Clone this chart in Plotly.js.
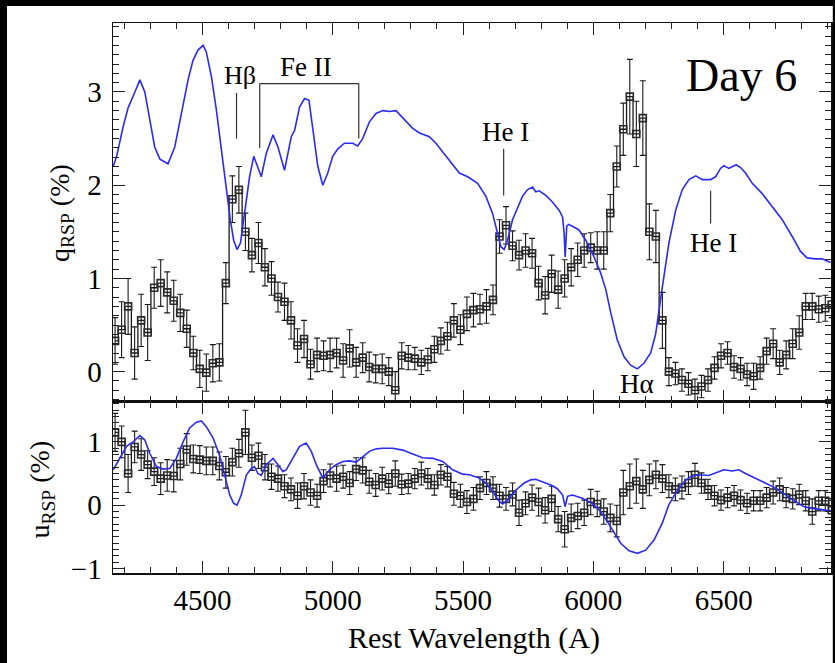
<!DOCTYPE html>
<html>
<head>
<meta charset="utf-8">
<script src="https://cdn.plot.ly/plotly-3.0.1.min.js"></script>
<style>html,body{margin:0;padding:0;background:#fff;}#chart{width:835px;height:663px;}</style>
</head>
<body>
<div id="chart"></div>
<script>
// Bin centres (rest wavelength, Angstrom) for the binned polarization data
const binWave = [
4165,4190,4215,4240,4265,4290,4315,4340,4365,4390,
4415,4440,4465,4490,4515,4540,4565,4590,4615,4640,
4665,4690,4715,4740,4765,4790,4815,4840,4865,4890,
4915,4940,4965,4990,5015,5040,5065,5090,5115,5140,
5165,5190,5215,5240,5265,5290,5315,5340,5365,5390,
5415,5440,5465,5490,5515,5540,5565,5590,5615,5640,
5665,5690,5715,5740,5765,5790,5815,5840,5865,5890,
5915,5940,5965,5990,6015,6040,6065,6090,6115,6140,
6165,6190,6215,6240,6265,6290,6315,6340,6365,6390,
6415,6440,6465,6490,6515,6540,6565,6590,6615,6640,
6665,6690,6715,6740,6765,6790,6815,6840,6865,6890,
6915];

// q_RSP (%) binned values and errors
const qVals = [
0.33,0.45,0.70,0.20,0.55,0.42,0.90,0.95,0.85,0.76,
0.63,0.46,0.20,0.03,-0.01,0.09,0.10,0.95,1.85,1.95,
1.50,1.25,1.38,1.12,1.00,0.80,0.75,0.55,0.28,0.35,
0.08,0.18,0.17,0.18,0.20,0.12,0.25,0.10,0.15,0.05,
0.03,0.03,0.00,-0.20,0.17,0.15,0.14,0.10,0.13,0.24,
0.33,0.38,0.55,0.45,0.62,0.66,0.67,0.70,0.77,1.45,
1.57,1.35,1.25,1.30,1.27,0.95,0.82,1.05,0.88,1.00,
1.12,1.20,1.30,1.33,1.30,1.30,1.70,2.20,2.60,2.95,
2.55,2.72,1.50,1.45,0.55,0.00,-0.02,-0.09,-0.13,-0.20,
-0.16,-0.09,0.04,0.17,0.20,0.05,0.03,-0.03,-0.05,0.04,
0.22,0.30,0.10,0.18,0.30,0.42,0.70,0.70,0.67,0.68,
0.72];
const qErr = [
0.25,0.30,0.30,0.28,0.28,0.30,0.22,0.25,0.22,0.22,
0.20,0.20,0.18,0.20,0.20,0.20,0.20,0.22,0.25,0.25,
0.20,0.18,0.22,0.20,0.18,0.16,0.20,0.20,0.18,0.20,
0.16,0.18,0.16,0.18,0.16,0.18,0.20,0.16,0.16,0.16,
0.15,0.16,0.15,0.20,0.14,0.13,0.12,0.13,0.12,0.14,
0.14,0.15,0.18,0.16,0.18,0.18,0.16,0.18,0.16,0.18,
0.20,0.16,0.16,0.18,0.16,0.18,0.20,0.20,0.20,0.20,
0.20,0.18,0.18,0.16,0.20,0.20,0.20,0.22,0.28,0.40,
0.35,0.40,0.30,0.28,0.30,0.15,0.12,0.12,0.12,0.12,
0.12,0.12,0.12,0.13,0.12,0.12,0.12,0.12,0.14,0.12,
0.14,0.16,0.13,0.15,0.16,0.18,0.14,0.14,0.14,0.14,
0.14];

// u_RSP (%) binned values and errors
const uVals = [
1.15,1.00,0.50,0.92,0.80,0.64,0.53,0.42,0.47,0.46,
0.65,0.88,0.73,0.72,0.70,0.70,0.62,0.52,0.68,0.82,
1.15,0.75,0.78,0.60,0.45,0.42,0.30,0.25,0.15,0.30,
0.20,0.15,0.38,0.47,0.42,0.45,0.35,0.57,0.55,0.37,
0.32,0.42,0.34,0.50,0.33,0.34,0.42,0.50,0.42,0.32,
0.48,0.45,0.18,0.15,0.05,0.10,0.27,0.35,0.27,0.15,
0.10,0.17,-0.12,0.03,0.12,0.05,-0.08,0.10,-0.22,-0.38,
-0.20,-0.17,-0.12,0.05,0.02,-0.10,-0.20,-0.25,0.20,0.30,
0.38,0.25,0.40,0.48,0.42,0.30,0.25,0.28,0.35,0.48,
0.35,0.25,0.15,0.08,0.12,0.15,0.08,0.03,0.07,0.07,
0.12,0.20,0.25,0.12,0.10,0.17,0.07,-0.10,0.07,0.07,
-0.08];
const uErr = [
0.30,0.25,0.30,0.25,0.25,0.22,0.22,0.25,0.25,0.25,
0.25,0.25,0.22,0.22,0.22,0.22,0.22,0.25,0.22,0.22,
0.35,0.20,0.20,0.20,0.20,0.20,0.18,0.18,0.20,0.20,
0.20,0.18,0.18,0.18,0.20,0.18,0.18,0.18,0.20,0.18,
0.18,0.18,0.16,0.20,0.16,0.16,0.16,0.18,0.16,0.16,
0.16,0.16,0.18,0.18,0.18,0.18,0.18,0.18,0.18,0.18,
0.18,0.18,0.20,0.18,0.20,0.22,0.20,0.20,0.20,0.28,
0.22,0.20,0.20,0.20,0.20,0.20,0.22,0.25,0.35,0.35,
0.35,0.30,0.25,0.22,0.22,0.18,0.18,0.18,0.18,0.18,
0.16,0.16,0.16,0.16,0.16,0.16,0.16,0.16,0.16,0.16,
0.16,0.18,0.18,0.16,0.16,0.16,0.16,0.20,0.16,0.16,
0.16];

// Scaled flux spectrum overlaid on the q panel (blue)
const qSpecWave = [4158,4171,4196,4215,4241,4260,4279,4298,4317,4337,4368,4394,4420,4445,4464,4483,4503,4515,4535,4554,4573,4592,4607,4620,4633,4646,4656,4669,4681,4697,4713,4726,4745,4771,4790,4815,4841,4854,4873,4892,4909,4924,4943,4962,4981,5000,5020,5045,5077,5096,5115,5141,5166,5192,5218,5243,5275,5307,5333,5371,5396,5428,5460,5486,5518,5543,5556,5588,5613,5633,5645,5658,5671,5690,5709,5728,5747,5767,5779,5792,5818,5843,5869,5882,5888,5892,5898,5905,5920,5945,5971,6003,6028,6048,6067,6092,6118,6143,6169,6194,6220,6239,6265,6290,6316,6341,6367,6393,6418,6450,6469,6488,6501,6520,6548,6565,6584,6610,6648,6686,6725,6763,6795,6820,6852,6878,6910];
const qSpecVal = [2.20,2.31,2.63,2.83,3.00,3.13,3.00,2.70,2.41,2.28,2.23,2.41,2.77,3.13,3.34,3.45,3.50,3.43,3.16,2.80,2.38,1.95,1.63,1.41,1.31,1.38,1.59,1.84,2.09,2.31,2.20,2.09,2.34,2.54,2.41,2.16,2.52,2.59,2.84,2.93,2.91,2.59,2.20,2.00,2.13,2.31,2.39,2.45,2.45,2.42,2.50,2.68,2.77,2.80,2.79,2.80,2.70,2.61,2.56,2.52,2.45,2.34,2.22,2.13,2.09,2.04,2.02,1.88,1.70,1.48,1.34,1.31,1.41,1.63,1.75,1.88,1.95,1.98,1.93,1.94,1.89,1.82,1.73,1.66,1.48,1.23,1.56,1.58,1.56,1.52,1.41,1.23,1.06,0.88,0.63,0.34,0.16,0.07,0.03,0.09,0.20,0.40,0.91,1.38,1.73,1.95,2.06,2.10,2.06,2.06,2.09,2.18,2.21,2.18,2.22,2.19,2.13,2.02,1.91,1.77,1.63,1.45,1.29,1.22,1.21,1.21,1.17];

// Scaled flux spectrum overlaid on the u panel (blue)
const uSpecWave = [4158,4183,4209,4234,4260,4279,4298,4324,4349,4375,4400,4426,4451,4477,4496,4515,4541,4566,4586,4605,4620,4633,4649,4669,4688,4700,4713,4726,4745,4771,4790,4809,4822,4847,4873,4898,4918,4937,4962,4988,5013,5039,5064,5090,5116,5141,5167,5192,5230,5269,5307,5345,5384,5422,5460,5499,5524,5562,5588,5613,5639,5652,5671,5703,5735,5760,5779,5805,5837,5862,5882,5892,5901,5920,5958,5996,6028,6054,6080,6105,6137,6169,6201,6233,6265,6290,6316,6348,6373,6405,6443,6475,6501,6533,6558,6584,6622,6660,6699,6737,6775,6807,6839,6878,6916];
const uSpecVal = [0.56,0.74,0.93,1.00,1.10,1.03,0.82,0.61,0.57,0.58,0.74,1.00,1.22,1.31,1.33,1.24,1.06,0.79,0.48,0.16,0.03,0.00,0.16,0.48,0.58,0.61,0.50,0.47,0.64,0.74,0.64,0.53,0.56,0.74,0.93,0.98,0.85,0.64,0.43,0.56,0.64,0.69,0.70,0.68,0.77,0.85,0.89,0.90,0.90,0.87,0.81,0.75,0.74,0.69,0.56,0.49,0.48,0.43,0.35,0.22,0.06,0.02,0.08,0.24,0.35,0.40,0.41,0.37,0.32,0.26,0.16,-0.02,0.14,0.16,0.11,0.03,-0.10,-0.26,-0.44,-0.60,-0.72,-0.76,-0.71,-0.55,-0.28,0.01,0.19,0.37,0.45,0.48,0.47,0.52,0.56,0.54,0.56,0.50,0.43,0.35,0.27,0.16,0.06,-0.02,-0.05,-0.07,-0.10];

// Line identifications
const lineLabels = ['Hβ','Fe II','He I','He I','Hα'];

const SERIF = 'Liberation Serif, Times New Roman, serif';
const BLUE = '#2b2bf0';
const INK = '#1a1a1a';

function binTrace(y, err, xa, ya){
  return {
    x: binWave, y: y, xaxis: xa, yaxis: ya, type: 'scatter', mode: 'lines+markers',
    line: {shape: 'hvh', color: INK, width: 1.3},
    marker: {symbol: 'square-open', size: 7, color: '#2a2a2a', line: {width: 1.6}},
    error_y: {type: 'data', array: err, visible: true, color: INK, thickness: 1.1, width: 3},
    hoverinfo: 'skip', showlegend: false
  };
}
function specTrace(x, y, xa, ya){
  return {x: x, y: y, xaxis: xa, yaxis: ya, type: 'scatter', mode: 'lines',
    line: {color: BLUE, width: 1.6}, hoverinfo: 'skip', showlegend: false};
}

const data = [
  binTrace(qVals, qErr, 'x2', 'y2'),
  specTrace(qSpecWave, qSpecVal, 'x2', 'y2'),
  binTrace(uVals, uErr, 'x', 'y'),
  specTrace(uSpecWave, uSpecVal, 'x', 'y')
];

const tickCommon = {
  ticks: 'inside', ticklen: 12, tickwidth: 1, tickcolor: '#222',
  showline: true, linecolor: '#111', linewidth: 1.5, mirror: 'allticks',
  showgrid: false, zeroline: false,
  tickfont: {family: SERIF, size: 29, color: '#000'}
};

function ann(text, xref, yref, x, y, size, extra){
  return Object.assign({text: text, xref: xref, yref: yref, x: x, y: y, showarrow: false,
    xanchor: 'center', yanchor: 'middle', font: {family: SERIF, size: size, color: '#000'}}, extra || {});
}

const layout = {
  width: 835, height: 663,
  margin: {l: 113, r: 4, t: 23, b: 90, pad: 0},
  paper_bgcolor: '#fff', plot_bgcolor: '#fff',
  showlegend: false,
  font: {family: SERIF, color: '#000'},
  xaxis: Object.assign({}, tickCommon, {
    anchor: 'y', domain: [0, 1], range: [4157, 6912],
    tick0: 4500, dtick: 500, ticklabelstandoff: 1,
    minor: {dtick: 100, tick0: 4500, ticks: 'inside', ticklen: 6, tickcolor: '#222', tickwidth: 1}
  }),
  xaxis2: Object.assign({}, tickCommon, {
    anchor: 'y2', matches: 'x', domain: [0, 1], range: [4157, 6912],
    tick0: 4500, dtick: 500, showticklabels: false,
    minor: {dtick: 100, tick0: 4500, ticks: 'inside', ticklen: 6, tickcolor: '#222', tickwidth: 1}
  }),
  yaxis: Object.assign({}, tickCommon, {
    anchor: 'x', domain: [0, 0.311], range: [-1.07, 1.63],
    tick0: 0, dtick: 1, ticklabelstandoff: 4,
    minor: {dtick: 0.1, tick0: 0, ticks: 'inside', ticklen: 6, tickcolor: '#222', tickwidth: 1}
  }),
  yaxis2: Object.assign({}, tickCommon, {
    anchor: 'x2', domain: [0.311, 1], range: [-0.325, 3.74],
    tick0: 0, dtick: 1, ticklabelstandoff: 4,
    minor: {dtick: 0.1, tick0: 0, ticks: 'inside', ticklen: 6, tickcolor: '#222', tickwidth: 1}
  }),
  annotations: [
    ann(lineLabels[0], 'x2', 'y2', 4645, 3.18, 26),
    ann(lineLabels[1], 'x2', 'y2', 4898, 3.27, 27),
    ann(lineLabels[2], 'x2', 'y2', 5662, 2.57, 27),
    ann(lineLabels[3], 'x2', 'y2', 6460, 1.38, 27),
    ann(lineLabels[4], 'x2', 'y2', 6168, -0.13, 27),
    ann('Day 6', 'paper', 'paper', 0.8747, 0.905, 46),
    ann('q<sub>RSP</sub> (%)', 'paper', 'paper', -0.072, 0.655, 28, {textangle: -90}),
    ann('u<sub>RSP</sub> (%)', 'paper', 'paper', -0.100, 0.152, 28, {textangle: -90}),
    ann('Rest Wavelength (A)', 'paper', 'paper', 0.5028, -0.118, 30)
  ],
  shapes: [
    // line markers
    {type: 'line', xref: 'x2', yref: 'y2', x0: 4631, x1: 4631, y0: 2.50, y1: 2.99, line: {color: '#333', width: 1.2}},
    {type: 'line', xref: 'x2', yref: 'y2', x0: 4720, x1: 4720, y0: 2.40, y1: 3.09, line: {color: '#333', width: 1.2}},
    {type: 'line', xref: 'x2', yref: 'y2', x0: 4720, x1: 5100, y0: 3.09, y1: 3.09, line: {color: '#333', width: 1.2}},
    {type: 'line', xref: 'x2', yref: 'y2', x0: 5100, x1: 5100, y0: 2.50, y1: 3.09, line: {color: '#333', width: 1.2}},
    {type: 'line', xref: 'x2', yref: 'y2', x0: 5656, x1: 5656, y0: 1.89, y1: 2.39, line: {color: '#333', width: 1.2}},
    {type: 'line', xref: 'x2', yref: 'y2', x0: 6450, x1: 6450, y0: 1.59, y1: 1.94, line: {color: '#333', width: 1.2}},
    // black frame around the picture
    {type: 'rect', xref: 'paper', yref: 'paper', x0: -0.2, x1: 1.05, y0: 1.0309, y1: 1.1, fillcolor: '#000', line: {width: 0}, layer: 'below'},
    {type: 'rect', xref: 'paper', yref: 'paper', x0: -0.2, x1: -0.1476, y0: -0.3, y1: 1.1, fillcolor: '#000', line: {width: 0}, layer: 'below'},
    {type: 'rect', xref: 'paper', yref: 'paper', x0: 1.0025, x1: 1.05, y0: -0.3, y1: 1.1, fillcolor: '#000', line: {width: 0}, layer: 'below'}
  ]
};

Plotly.newPlot('chart', data, layout, {displayModeBar: false, staticPlot: true});
</script>
</body>
</html>
